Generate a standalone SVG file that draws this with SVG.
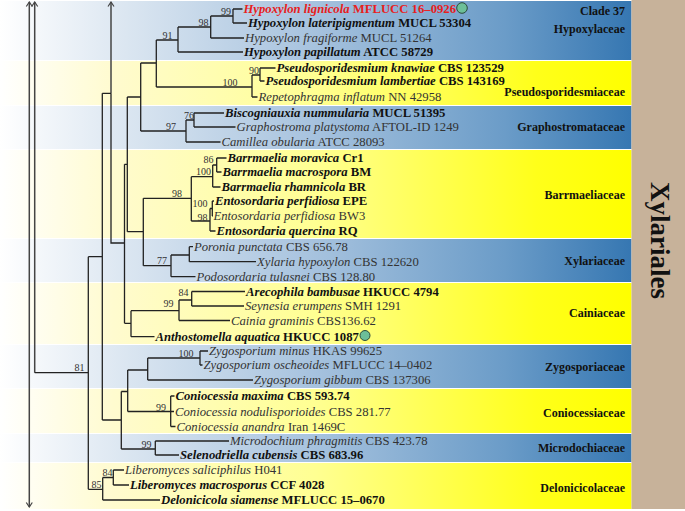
<svg xmlns="http://www.w3.org/2000/svg" width="685" height="511" viewBox="0 0 685 511">
<defs>
<linearGradient id="gb" gradientUnits="userSpaceOnUse" x1="0" y1="0" x2="631" y2="0">
<stop offset="0" stop-color="#ffffff"/><stop offset="0.2" stop-color="#dbe6f1"/><stop offset="0.5" stop-color="#a6c2de"/><stop offset="0.8" stop-color="#6b9cc8"/><stop offset="1" stop-color="#3677b2"/>
</linearGradient>
<linearGradient id="gy" gradientUnits="userSpaceOnUse" x1="0" y1="0" x2="631" y2="0">
<stop offset="0" stop-color="#ffffff"/><stop offset="0.18" stop-color="#fffbcf"/><stop offset="0.5" stop-color="#ffff92"/><stop offset="0.85" stop-color="#ffff1a"/><stop offset="1" stop-color="#ffff00"/>
</linearGradient>
<marker id="ah" viewBox="0 0 8 8" refX="7" refY="4" markerWidth="8" markerHeight="8" markerUnits="userSpaceOnUse" orient="auto-start-reverse">
<path d="M2.5,1 L7,4 L2.5,7" fill="none" stroke="#444" stroke-width="1.2"/>
</marker>
<style>
.tx{font-family:"Liberation Serif","Times New Roman",serif;font-size:12.7px;fill:#333}
.b{font-weight:bold;fill:#111}
.i{font-style:italic}
.red{fill:#e8201c}
.bs{font-family:"Liberation Serif","Times New Roman",serif;font-size:10px;fill:#333;text-anchor:end}
.fam{font-family:"Liberation Serif","Times New Roman",serif;font-size:12px;font-weight:bold;fill:#111;text-anchor:end}
.ln{fill:none;stroke:#222;stroke-width:1.3}
.ar{fill:none;stroke:#444;stroke-width:1.5}
.dot{fill:#6cbf98;stroke:#2b4a3a;stroke-width:1}
</style>
</defs>
<rect width="685" height="511" fill="#ffffff"/>
<g id="bands">
<rect x="0" y="1" width="631.5" height="59" fill="url(#gb)"/>
<rect x="0" y="61" width="631.5" height="44" fill="url(#gy)"/>
<rect x="0" y="106" width="631.5" height="43" fill="url(#gb)"/>
<rect x="0" y="150" width="631.5" height="88" fill="url(#gy)"/>
<rect x="0" y="239" width="631.5" height="43" fill="url(#gb)"/>
<rect x="0" y="283" width="631.5" height="61" fill="url(#gy)"/>
<rect x="0" y="345" width="631.5" height="43" fill="url(#gb)"/>
<rect x="0" y="389" width="631.5" height="44" fill="url(#gy)"/>
<rect x="0" y="434" width="631.5" height="28" fill="url(#gb)"/>
<rect x="0" y="463" width="631.5" height="46" fill="url(#gy)"/>
<rect x="631.5" y="0" width="53.5" height="509" fill="#c7b29a"/>
</g>
<g id="order"><text transform="translate(651,240.5) rotate(90)" text-anchor="middle" style="font-family:'Liberation Serif','Times New Roman',serif;font-size:27px;font-weight:bold;fill:#111">Xylariales</text></g>
<g id="families">
<text class="fam" x="625" y="14.5">Clade 37</text>
<text class="fam" x="625" y="32.5">Hypoxylaceae</text>
<text class="fam" x="625" y="96">Pseudosporidesmiaceae</text>
<text class="fam" x="625" y="131">Graphostromataceae</text>
<text class="fam" x="625" y="198.5">Barrmaeliaceae</text>
<text class="fam" x="625" y="265">Xylariaceae</text>
<text class="fam" x="625" y="317">Cainiaceae</text>
<text class="fam" x="625" y="371">Zygosporiaceae</text>
<text class="fam" x="625" y="417">Coniocessiaceae</text>
<text class="fam" x="625" y="452">Microdochiaceae</text>
<text class="fam" x="625" y="492">Delonicicolaceae</text>
</g>
<g id="connectors">
<path class="ar" d="M29.3,2 V507" marker-start="url(#ah)" marker-end="url(#ah)"/>
<path class="ar" d="M34.7,2 V372.7" marker-start="url(#ah)"/>
<path class="ar" d="M111,2 V93.3" marker-start="url(#ah)"/>
<path class="ln" d="M34.7,372.7 H88.3 M88.3,256.7 V489.3 M88.3,256.7 H102.3 M102.3,93.3 V420 M102.3,93.3 H111 M111,93.3 V243 H124.5 M88.3,489.3 H102.7"/>
<path class="ln" d="M102.7,477.5 V500 M102.7,477.5 H113.3 M113.3,470 V485 M113.3,470 H124 M113.3,485 H129 M102.7,500 H160"/>
<path class="ln" d="M102.3,420 H121.3 M121.3,391.5 V449 M121.3,391.5 H127.7 M127.7,370 V411.5 M127.7,370 H147.7 M147.7,358 V380 M147.7,358 H200 M200,351 V365 M200,351 H208 M200,365 H202.5 M147.7,380 H253"/>
<path class="ln" d="M127.7,411.5 H174 M170.7,396 V426.5 M170.7,396 H174.5 M170.7,426.5 H175.5"/>
<path class="ln" d="M121.3,449 H155.3 M155.3,441 V455 M155.3,441 H229 M155.3,455 H179"/>
<path class="ln" d="M124.5,164.3 V323.3 M124.5,164.3 H127.3 M127.3,97 V231.7 M127.3,97 H140.7 M140.7,63 V131 M140.7,63 H156.3 M156.3,40 V87 M156.3,40 H178 M178,27 V52 M178,27 H210.7 M210.7,16 V38 M210.7,16 H233 M233,9 V23 M233,9 H242.5 M233,23 H247 M210.7,38 H244 M178,52 H243"/>
<path class="ln" d="M156.3,87 H252 M252,75 V97 M252,75 H260 M260,68 V81 M260,68 H275.5 M260,81 H264.5 M252,97 H257.5"/>
<path class="ln" d="M140.7,131 H186 M186,120 V142 M186,120 H194 M194,113 V127 M194,113 H224 M194,127 H235.5 M186,142 H220.5"/>
<path class="ln" d="M127.3,231.7 H143.3 M143.3,198.3 V265.7 M143.3,198.3 H191.3 M191.3,176.7 V221 M191.3,176.7 H212.7 M212.7,165 V187 M212.7,165 H216.7 M216.7,158 V172 M216.7,158 H226.5 M216.7,172 H221.5 M212.7,187 H220.5"/>
<path class="ln" d="M191.3,221 H210 M210,208.5 V231 M210,208.5 H212.3 M212.3,201 V216 M212.3,201 H214 M212.3,216 H213 M210,231 H215.5"/>
<path class="ln" d="M143.3,265.7 H171 M171,255 V276.7 M171,255 H189.3 M189.3,246.7 V261.7 M189.3,246.7 H193 M189.3,261.7 H256 M171,276.7 H195.5"/>
<path class="ln" d="M124.5,323.3 H131 M131,310.7 V336.7 M131,310.7 H179 M179,300 V320.5 M179,300 H191.7 M191.7,291.5 V306 M191.7,291.5 H245 M191.7,306 H244 M179,320.5 H230 M131,336.7 H154.5"/>
</g>
<g id="support">
<text class="bs" x="231" y="14.5">99</text>
<text class="bs" x="208.5" y="25.5">98</text>
<text class="bs" x="172.5" y="38.5">91</text>
<text class="bs" x="259" y="74">90</text>
<text class="bs" x="237.5" y="85.5">100</text>
<text class="bs" x="194" y="118.5">76</text>
<text class="bs" x="176" y="129.5">97</text>
<text class="bs" x="213.5" y="163">86</text>
<text class="bs" x="211" y="174.5">100</text>
<text class="bs" x="182" y="197">98</text>
<text class="bs" x="207.5" y="206.5">100</text>
<text class="bs" x="207.5" y="220.5">98</text>
<text class="bs" x="167" y="264">77</text>
<text class="bs" x="188.5" y="296">84</text>
<text class="bs" x="173.5" y="307">99</text>
<text class="bs" x="193.5" y="357">100</text>
<text class="bs" x="84.5" y="371">81</text>
<text class="bs" x="166" y="410.5">99</text>
<text class="bs" x="151.5" y="447.5">99</text>
<text class="bs" x="112.5" y="475.5">84</text>
<text class="bs" x="101.5" y="488">85</text>
</g>
<g id="taxa">
<g id="t1"><text class="tx b red" x="243.5" y="13"><tspan class="i">Hypoxylon lignicola</tspan> MFLUCC 16–0926</text><circle class="dot" cx="462" cy="8" r="5.3"/></g>
<g id="t2"><text class="tx b" x="248" y="27"><tspan class="i">Hypoxylon lateripigmentum</tspan> MUCL 53304</text></g>
<g id="t3"><text class="tx" x="245" y="42"><tspan class="i">Hypoxylon fragiforme</tspan> MUCL 51264</text></g>
<g id="t4"><text class="tx b" x="244" y="56"><tspan class="i">Hypoxylon papillatum</tspan> ATCC 58729</text></g>
<g id="t5"><text class="tx b" x="276.5" y="72"><tspan class="i">Pseudosporidesmium knawiae</tspan> CBS 123529</text></g>
<g id="t6"><text class="tx b" x="265.5" y="85"><tspan class="i">Pseudosporidesmium lambertiae</tspan> CBS 143169</text></g>
<g id="t7"><text class="tx" x="258.5" y="101"><tspan class="i">Repetophragma inflatum</tspan> NN 42958</text></g>
<g id="t8"><text class="tx b" x="225" y="117"><tspan class="i">Biscogniauxia nummularia</tspan> MUCL 51395</text></g>
<g id="t9"><text class="tx" x="236.5" y="131"><tspan class="i">Graphostroma platystoma</tspan> AFTOL-ID 1249</text></g>
<g id="t10"><text class="tx" x="221.5" y="146"><tspan class="i">Camillea obularia</tspan> ATCC 28093</text></g>
<g id="t11"><text class="tx b" x="227.5" y="162"><tspan class="i">Barrmaelia moravica</tspan> Cr1</text></g>
<g id="t12"><text class="tx b" x="222.5" y="176"><tspan class="i">Barrmaelia macrospora</tspan> BM</text></g>
<g id="t13"><text class="tx b" x="221.5" y="191"><tspan class="i">Barrmaelia rhamnicola</tspan> BR</text></g>
<g id="t14"><text class="tx b" x="215" y="205"><tspan class="i">Entosordaria perfidiosa</tspan> EPE</text></g>
<g id="t15"><text class="tx" x="213.5" y="220"><tspan class="i">Entosordaria perfidiosa</tspan> BW3</text></g>
<g id="t16"><text class="tx b" x="216.5" y="235"><tspan class="i">Entosordaria quercina</tspan> RQ</text></g>
<g id="t17"><text class="tx" x="194" y="250.7"><tspan class="i">Poronia punctata</tspan> CBS 656.78</text></g>
<g id="t18"><text class="tx" x="257" y="265.7"><tspan class="i">Xylaria hypoxylon</tspan> CBS 122620</text></g>
<g id="t19"><text class="tx" x="196.5" y="280.7"><tspan class="i">Podosordaria tulasnei</tspan> CBS 128.80</text></g>
<g id="t20"><text class="tx b" x="246" y="295.5"><tspan class="i">Arecophila bambusae</tspan> HKUCC 4794</text></g>
<g id="t21"><text class="tx" x="245" y="310"><tspan class="i">Seynesia erumpens</tspan> SMH 1291</text></g>
<g id="t22"><text class="tx" x="231" y="324.5"><tspan class="i">Cainia graminis</tspan> CBS136.62</text></g>
<g id="t23"><text class="tx b" x="155.5" y="340.7"><tspan class="i">Anthostomella aquatica</tspan> HKUCC 1087</text><circle class="dot" cx="365" cy="335.5" r="5"/></g>
<g id="t24"><text class="tx" x="209" y="355"><tspan class="i">Zygosporium minus</tspan> HKAS 99625</text></g>
<g id="t25"><text class="tx" x="203.5" y="369"><tspan class="i">Zygosporium oscheoides</tspan> MFLUCC 14–0402</text></g>
<g id="t26"><text class="tx" x="254" y="384"><tspan class="i">Zygosporium gibbum</tspan> CBS 137306</text></g>
<g id="t27"><text class="tx b" x="175.5" y="400"><tspan class="i">Coniocessia maxima</tspan> CBS 593.74</text></g>
<g id="t28"><text class="tx" x="175" y="415.5"><tspan class="i">Coniocessia nodulisporioides</tspan> CBS 281.77</text></g>
<g id="t29"><text class="tx" x="176.5" y="430.5"><tspan class="i">Coniocessia anandra</tspan> Iran 1469C</text></g>
<g id="t30"><text class="tx" x="230" y="445"><tspan class="i">Microdochium phragmitis</tspan> CBS 423.78</text></g>
<g id="t31"><text class="tx b" x="180" y="459"><tspan class="i">Selenodriella cubensis</tspan> CBS 683.96</text></g>
<g id="t32"><text class="tx" x="125" y="474"><tspan class="i">Liberomyces saliciphilus</tspan> H041</text></g>
<g id="t33"><text class="tx b" x="130" y="489"><tspan class="i">Liberomyces macrosporus</tspan> CCF 4028</text></g>
<g id="t34"><text class="tx b" x="161" y="504"><tspan class="i">Delonicicola siamense</tspan> MFLUCC 15–0670</text></g>
</g>
</svg>
